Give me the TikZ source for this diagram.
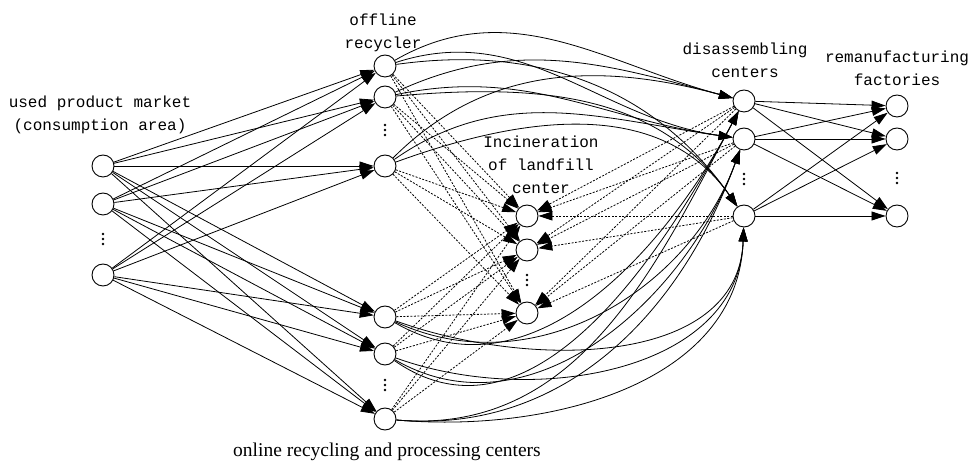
\documentclass[tikz,border=0pt]{standalone}
\usepackage{fontspec}
\setmainfont{Liberation Serif}
\newfontfamily\labelfont{Liberation Mono}
\usetikzlibrary{arrows.meta}
\tikzstyle{site} = [circle, draw, line width=0.9pt, fill=white, minimum size=22pt, inner sep=0pt]
\tikzstyle{arrow} = [line width=0.8pt, -{Triangle[length=14pt,width=9pt]}]
\tikzstyle{dasharrow} = [arrow, dash pattern=on 2pt off 1.5pt]
\tikzstyle{tier} = [align=center, font=\labelfont\fontsize{16}{23}\selectfont]

\begin{document}
\begin{tikzpicture}[x=1pt, y=1pt]
\useasboundingbox (0,0) rectangle (973,465);

% Market
\node (market1) [site] at (103,299) {};
\node (market2) [site] at (103,261) {};
\node (market3) [site] at (103,190) {};

% Offline recycler
\node (offline1) [site] at (385,399) {};
\node (offline2) [site] at (385,368) {};
\node (offline3) [site] at (385,299) {};

% Online centers
\node (online1) [site] at (385,148) {};
\node (online2) [site] at (385,111) {};
\node (online3) [site] at (385,46) {};

% Incineration
\node (incin1) [site] at (527,249) {};
\node (incin2) [site] at (527,215) {};
\node (incin3) [site] at (527,152) {};

% Disassembling
\node (disasm1) [site] at (744,364) {};
\node (disasm2) [site] at (744,326) {};
\node (disasm3) [site] at (744,249) {};

% Remanufacturing
\node (reman1) [site] at (897,359) {};
\node (reman2) [site] at (897,326) {};
\node (reman3) [site] at (897,249) {};

% Dots
\foreach \x/\y in {103/226, 385/335, 385/80, 527/185, 744/286, 897/287}
  \foreach \d in {-5,0,5}
    \fill (\x,\y+\d) circle (1.3);

% Arrows
\foreach \s in {market1,market2,market3}
  \foreach \t in {offline1,offline2,offline3,online1,online2,online3}
    \draw [arrow] (\s) -- (\t);

\foreach \s in {offline1,offline2,offline3,online1,online2,online3,disasm1,disasm2,disasm3}
  \foreach \t in {incin1,incin2,incin3}
    \draw [dasharrow] (\s) -- (\t);

\foreach \s/\a/\b/\c in {offline1/30/18/8, offline2/25/12/5, offline3/45/35/20} {
  \draw [arrow] (\s) to[out=\a, in=165] (disasm1);
  \draw [arrow] (\s) to[out=\b, in=172] (disasm2);
  \draw [arrow] (\s) to[out=\c, in=125] (disasm3);
}

\foreach \s/\a/\b/\c in {online1/-30/-25/-20, online2/-35/-30/-20, online3/-5/-5/-5} {
  \draw [arrow] (\s) to[out=\a, in=-118] (disasm1);
  \draw [arrow] (\s) to[out=\b, in=-110] (disasm2);
  \draw [arrow] (\s) to[out=\c, in=-92] (disasm3);
}

\foreach \s in {disasm1,disasm2,disasm3}
  \foreach \t in {reman1,reman2,reman3}
    \draw [arrow] (\s) -- (\t);

% Labels
\node (marketlbl) [tier] at (100,350) {used product market\\(consumption area)};
\node (offlinelbl) [tier] at (383,432) {offline\\recycler};
\node (incinlbl) [tier] at (541,300) {Incineration\\of landfill\\center};
\node (disasmlbl) [tier] at (745,405) {disassembling\\centers};
\node (remanlbl) [tier] at (897,397) {remanufacturing\\factories};
\node (onlinelbl) [font=\fontsize{19.5}{22}\selectfont] at (387,13) {online recycling and processing centers};

\end{tikzpicture}
\end{document}
